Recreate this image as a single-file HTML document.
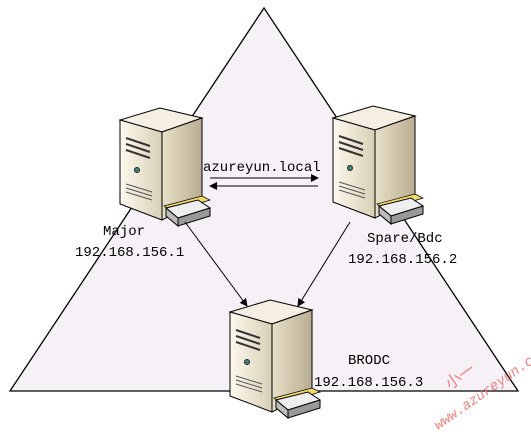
<!DOCTYPE html>
<html><head><meta charset="utf-8"><style>
body{margin:0;background:#fff;width:531px;height:432px;overflow:hidden}
svg text{font-family:"Liberation Mono","Noto Sans CJK SC",monospace;font-size:14px;fill:#000}
</style></head><body>
<svg width="531" height="432" viewBox="0 0 531 432">
<defs>
<linearGradient id="fr" x1="0" x2="1"><stop offset="0" stop-color="#fdf9ee"/><stop offset="1" stop-color="#d8cfb6"/></linearGradient>
<linearGradient id="sd" x1="0" x2="1"><stop offset="0" stop-color="#e8e0c8"/><stop offset="1" stop-color="#b8ad92"/></linearGradient>
<marker id="ah" markerWidth="8" markerHeight="8" refX="7" refY="4" orient="auto"><path d="M0,0 L8,4 L0,8 z" fill="#000"/></marker>
<g id="srv">
<path d="M0,12 L40,0 L82,10 L42,24 z" fill="#f4efe2" stroke="#000"/>
<path d="M0,12 L42,24 L42,112 L0,96 z" fill="url(#fr)" stroke="#000"/>
<path d="M42,24 L82,10 L82,92 L42,112 z" fill="url(#sd)" stroke="#000"/>
<path d="M6,30 L30,38 M6,36 L30,44 M6,42 L30,50" stroke="#333" stroke-width="2"/>
<circle cx="17" cy="62" r="2.5" fill="#3a8a7a" stroke="#222"/>
<path d="M6,76 L32,84 M6,80 L32,88 M6,84 L32,92" stroke="#555"/>
<path d="M44,98 L82,88 L90,92 L52,104 z" fill="#f3d86a" stroke="#000" stroke-width=".7"/>
<path d="M46,100 L78,92 L90,100 L58,110 z" fill="#eee" stroke="#000"/>
<path d="M46,100 L58,110 L58,118 L46,108 z" fill="#bbb" stroke="#000"/>
<path d="M58,110 L90,100 L90,108 L58,118 z" fill="#999" stroke="#000"/>
</g>
</defs>
<polygon points="264,8 10,391 518,391" fill="#f6f1f6" stroke="#000" stroke-width="1.3"/>
<use href="#srv" x="120" y="108"/>
<use href="#srv" x="333" y="106"/>
<use href="#srv" x="230" y="300"/>
<line x1="210" y1="178" x2="318" y2="178" stroke="#000" marker-end="url(#ah)"/>
<line x1="318" y1="186" x2="210" y2="186" stroke="#000" marker-end="url(#ah)"/>
<line x1="185" y1="222" x2="247" y2="306" stroke="#000" marker-end="url(#ah)"/>
<line x1="350" y1="222" x2="298" y2="306" stroke="#000" marker-end="url(#ah)"/>
<text x="203" y="171">azureyun.local</text>
<text x="103" y="235">Major</text>
<text x="75" y="256">192.168.156.1</text>
<text x="367" y="242">Spare/Bdc</text>
<text x="348" y="263">192.168.156.2</text>
<text x="348" y="364">BRODC</text>
<text x="314" y="386">192.168.156.3</text>
<text x="438" y="430" transform="rotate(-35 438 430)" style="font-size:14px;fill:#f08080;font-style:italic">www.azureyun.com</text>
<text x="450" y="390" transform="rotate(-35 450 390)" style="font-size:16px;fill:#f08080">小一</text>
</svg>
</body></html>
